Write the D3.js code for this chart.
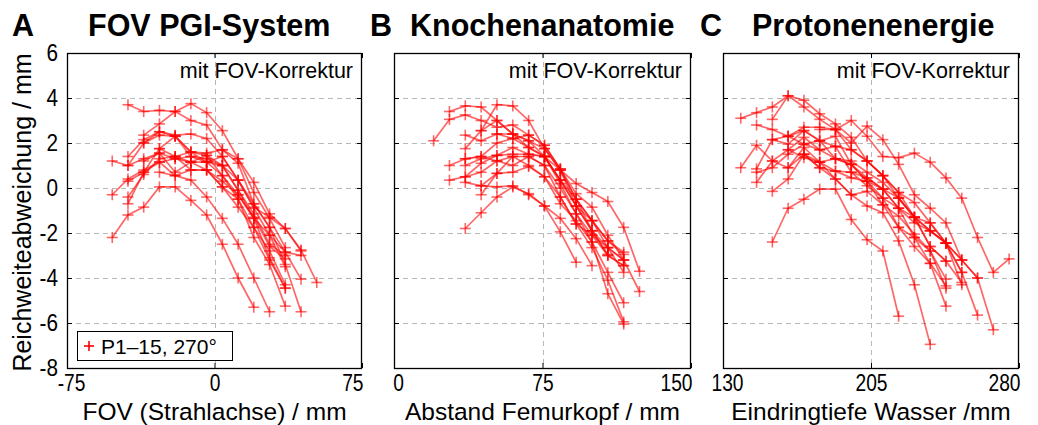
<!DOCTYPE html>
<html><head><meta charset="utf-8">
<script src="https://cdn.jsdelivr.net/npm/d3@7"></script>
<style>body{margin:0;background:#fff}svg{display:block}text{font-family:"Liberation Sans",Arial,Helvetica,sans-serif}</style>
</head><body><svg id="c" width="1038" height="425"></svg>
<script>
// ---- text / axes ----
const panelLetters = ["A", "B", "C"];
const panelTitles = ["FOV PGI-System", "Knochenanatomie", "Protonenenergie"];
const xTitles = ["FOV (Strahlachse) / mm", "Abstand Femurkopf / mm", "Eindringtiefe Wasser /mm"];
const xDomains = [[-75, 75], [0, 150], [130, 280]];
const xTickVals = [[-75, 0, 75], [0, 75, 150], [130, 205, 280]];
const yTickVals = [-8, -6, -4, -2, 0, 2, 4, 6];
const yTitle = "Reichweiteabweichung / mm";
const annotation = "mit FOV-Korrektur";
const legendLabel = "P1\u201315, 270\u00b0";
const xStep = [8, 8, 8];

// ---- data: each line = first x position, then range deviations (mm) ----
const startsA = [-44, -36, -44, -52, -44, -52, -44, -36, -44, -36, -44, -52, -28, -28, -20];
const linesA = [
  [3.7, 3.4, 3.45, 3.4, 3.0, 2.8, 1.7, 1.1, -0.7, -1.75, -2.85, -4.05],
  [2.35, 2.85, 3.4, 3.75, 3.35, 2.55, 1.3, 0.25, -1.15, -1.8, -2.8],
  [1.4, 2.15, 2.5, 2.35, 2.4, 2.2, 1.4, 0.35, -0.85, -1.3, -1.8, -2.75, -4.2],
  [1.2, 1.0, 2.0, 2.35, 2.3, 1.6, 1.45, 1.0, -0.1, -1.15, -2.5, -3.0],
  [1.0, 1.3, 1.55, 1.3, 1.4, 1.3, 1.0, -0.1, -1.35, -3.1, -4.45],
  [-0.3, 0.4, 0.8, 1.15, 1.3, 1.15, 1.45, 0.55, -0.5, -2.2, -3.4, -5.25],
  [0.3, 0.7, 1.75, 1.4, 1.6, 1.55, 1.7, 1.3, -0.2, -1.35, -2.65],
  [2.0, 2.5, 2.3, 1.4, 1.15, 1.4, 0.35, -0.9, -2.1, -3.5],
  [-0.4, 0.6, 1.3, 1.4, 0.8, 0.8, 0.05, -0.5, -1.75, -2.8, -4.3],
  [1.2, 1.55, 0.7, 1.15, 0.8, 0.3, -0.3, -1.3, -2.6, -3.15],
  [-0.7, 0.7, 1.15, 0.55, 0.35, -0.4, -1.35, -2.5, -4.0, -5.5],
  [-2.2, -1.2, -0.85, 0.05, 0.05, -0.55, -1.2, -2.5, -4.0, -5.3],
  [1.75, 2.3, 1.6, 1.15, 0.55, -0.3, -1.35, -2.1, -2.85, -3.0],
  [0.7, 0.55, 0.8, 0.8, 0.05, -0.85, -1.75, -3.2, -4.45],
  [1.4, 1.15, 1.15, 1.0, 0.35, -0.7, -1.75, -3.4, -5.5]
];
const startsB = [28, 20, 36, 36, 28, 28, 36, 36, 36, 36, 44, 36, 44, 52, 44];
const linesB = [
  [3.4, 3.65, 3.6, 3.0, 2.4, 1.8, 1.4, 0.35, -0.8, -1.45, -2.35, -2.95],
  [2.1, 3.05, 3.25, 3.0, 2.7, 2.8, 2.35, 1.9, 0.85, -0.25, -0.85, -2.1, -3.2, -4.6],
  [1.75, 2.55, 3.7, 3.65, 3.0, 1.75, 0.8, 0.2, -0.2, -0.6, -1.75, -3.7],
  [2.35, 2.1, 2.4, 2.4, 2.1, 1.75, 0.8, -0.5, -1.45, -2.35, -2.85],
  [1.0, 1.3, 1.4, 2.0, 2.2, 1.8, 1.4, 0.35, -0.8, -1.9, -2.65, -3.2],
  [0.35, 0.5, 1.1, 1.45, 1.5, 1.5, 1.4, 0.2, -1.15, -2.1, -3.0, -3.45],
  [1.3, 1.4, 1.2, 1.4, 1.4, 1.0, 0.0, -1.15, -2.4, -3.75, -5.1],
  [1.0, 1.3, 1.45, 1.8, 1.5, 1.4, 0.8, -0.8, -1.9, -3.0, -3.45],
  [0.5, 0.7, 1.2, 1.0, 1.4, 1.0, -0.4, -1.6, -2.65, -4.1, -5.95],
  [0.25, 0.1, 0.65, 0.7, 0.95, 0.5, -0.7, -1.45, -2.4, -4.7, -6.05],
  [0.1, 0.05, 0.1, -0.3, -0.8, -1.95, -3.3],
  [-1.8, -1.1, -0.4, 0.05, -0.25, -0.8, -1.35, -2.25, -3.45],
  [-0.3, 0.65, 1.4, 1.0, 0.5, -0.4, -1.6, -2.1, -2.65, -3.2],
  [2.4, 2.2, 2.35, 1.9, 0.85, -0.5, -1.45, -2.65, -3.75],
  [2.55, 3.0, 2.4, 2.1, 1.4, 0.35, -0.5, -1.9, -2.95]
];
const startsC = [139, 155, 147, 147, 139, 147, 147, 155, 155, 163, 163, 155, 171, 163, 179];
const linesC = [
  [3.1, 3.35, 3.6, 4.1, 3.9, 3.3, 2.85, 2.25, 1.2, 0.55, -0.45, -1.3, -2.6, -3.25],
  [3.05, 4.1, 3.6, 3.05, 2.6, 3.0, 2.3, 1.4, 1.35, 1.55, 1.15, 0.45, -0.45, -2.2, -3.75, -3.15],
  [2.8, 2.6, 2.3, 2.7, 2.7, 2.6, 2.0, 2.75, 2.15, 1.05, -0.3, -0.9, -1.55, -3.2, -4.0, -6.3],
  [0.85, 2.15, 1.95, 2.55, 2.1, 1.85, 1.7, 1.2, 0.55, -0.2, -1.3, -1.9, -2.45, -3.75, -5.65],
  [0.9, 1.9, 1.2, 1.7, 2.25, 1.7, 1.3, 1.2, 0.7, 0.25, -0.45, -1.3, -2.6, -3.25, -4.2],
  [0.7, 0.9, 1.5, 1.95, 2.1, 2.3, 1.05, 0.45, -0.05, -0.9, -1.55, -1.9, -2.45, -4.3],
  [0.25, 1.2, 0.9, 1.8, 1.15, 1.3, 1.05, 0.3, -0.75, -1.25, -2.05, -2.8, -4.05],
  [-0.15, 0.4, 1.5, 0.9, 0.75, 0.7, 0.1, -0.45, -1.75, -2.6, -3.35, -4.35],
  [2.15, 2.3, 1.95, 1.7, 1.85, 0.7, 0.45, -0.05, -0.9, -2.2, -3.35, -5.25],
  [1.7, 1.35, 1.15, 0.75, 0.45, 0.3, -0.45, -0.9, -1.3, -1.9, -2.45, -3.2],
  [0.9, 1.5, 0.9, 0.4, -0.3, -0.15, -0.75, -1.75, -2.2, -2.8, -4.45],
  [-2.4, -0.9, -0.5, -0.05, -0.05, -1.4, -2.3, -2.8, -5.7],
  [1.5, 1.15, 0.4, -0.3, -0.8, -1.1, -2.35, -4.3, -6.95],
  [2.3, 2.55, 2.1, 1.3, 1.05, 0.3, -0.05, -0.45, -1.3, -1.55, -2.45, -3.75],
  [2.6, 2.6, 1.7, 1.2, 0.55, -0.2, -0.65, -1.55, -2.45, -3.2, -4.0]
];

// ---- layout ----
const svg = d3.select("#c");
const panelX = [[67, 362], [394, 691], [723, 1019]];
const plotTop = 53, plotBottom = 368;
const yScale = d3.scaleLinear().domain([-8, 6]).range([plotBottom, plotTop]);
const red = "#ff0000";
const panelsData = [[startsA, linesA], [startsB, linesB], [startsC, linesC]];
const fmt = v => String(v);   // plain hyphen-minus as in the reference

const plus = (g, x, y, r) => {
  g.append("line").attr("x1", x - r).attr("x2", x + r).attr("y1", y).attr("y2", y);
  g.append("line").attr("x1", x).attr("x2", x).attr("y1", y - r).attr("y2", y + r);
};
const condense = (sel, f) => sel.each(function () {
  const w = this.getComputedTextLength();
  if (w > 0) d3.select(this).attr("textLength", w * f).attr("lengthAdjust", "spacingAndGlyphs");
});

panelsData.forEach(([starts, lines], p) => {
  const [x0, x1] = panelX[p];
  const xScale = d3.scaleLinear().domain(xDomains[p]).range([x0, x1]);
  const g = svg.append("g");

  // grid
  const grid = g.append("g").attr("stroke", "#b8b8b8").attr("stroke-width", 1).attr("stroke-dasharray", "5,4");
  yTickVals.slice(1, -1).forEach(v => grid.append("line").attr("x1", x0).attr("x2", x1)
    .attr("y1", Math.round(yScale(v)) + 0.5).attr("y2", Math.round(yScale(v)) + 0.5));
  xTickVals[p].slice(1, -1).forEach(v => grid.append("line").attr("y1", plotTop).attr("y2", plotBottom)
    .attr("x1", Math.round(xScale(v)) + 0.5).attr("x2", Math.round(xScale(v)) + 0.5));

  // axes with inward ticks
  const yLeft = d3.axisLeft(yScale).tickValues(yTickVals).tickSize(-5).tickPadding(9)
    .tickFormat(p === 0 ? fmt : () => "");
  const yRight = d3.axisRight(yScale).tickValues(yTickVals).tickSize(-5).tickFormat(() => "");
  const xBottom = d3.axisBottom(xScale).tickValues(xTickVals[p]).tickSize(-5).tickPadding(6).tickFormat(fmt);
  const xTop = d3.axisTop(xScale).tickValues(xTickVals[p]).tickSize(-5).tickFormat(() => "");
  const styleAxis = (a, size, f) => {
    a.select(".domain").remove();
    a.selectAll("line").attr("stroke", "#000");
    a.selectAll("text").attr("font-size", size).attr("fill", "#000")
      .attr("font-family", '"Liberation Sans", Arial, sans-serif').call(condense, f);
  };
  g.append("g").attr("transform", `translate(${x0},0)`).call(yLeft).call(styleAxis, 23, 0.9);
  g.append("g").attr("transform", `translate(${x1},0)`).call(yRight).call(styleAxis, 23, 1);
  const xb = g.append("g").attr("transform", `translate(0,${plotBottom})`).call(xBottom).call(styleAxis, 24, 0.8);
  // first label nudged right, last label kept inside the frame (as in the reference)
  const labels = xb.selectAll(".tick text");
  labels.filter((d, i) => i === 0).attr("dx", 4);
  labels.filter((d, i) => i === 2).attr("text-anchor", "end").attr("dx", 1);
  g.append("g").attr("transform", `translate(0,${plotTop})`).call(xTop).call(styleAxis, 23, 1);

  // frame
  g.append("rect").attr("x", x0 + 0.5).attr("y", plotTop + 0.5).attr("width", x1 - x0 - 1)
    .attr("height", plotBottom - plotTop).attr("fill", "none").attr("stroke", "#000").attr("stroke-width", 1.3);

  // series
  const line = d3.line().x(d => xScale(d[0])).y(d => yScale(d[1]));
  const series = g.append("g");
  lines.forEach((vals, i) => {
    const pts = vals.map((v, k) => [starts[i] + k * xStep[p], v]);
    series.append("path").attr("d", line(pts)).attr("fill", "none")
      .attr("stroke", red).attr("stroke-opacity", 0.6).attr("stroke-width", 1.7);
    const mg = series.append("g").attr("stroke", red).attr("stroke-opacity", 0.6).attr("stroke-width", 1.6);
    pts.forEach(d => plus(mg, xScale(d[0]), yScale(d[1]), 5.5));
  });

  // annotation
  g.append("text").attr("x", x1 - 9).attr("y", plotTop + 25).attr("text-anchor", "end")
    .attr("font-size", 21.5).attr("fill", "#000").text(annotation);

  // x title
  g.append("text").attr("x", (x0 + x1) / 2).attr("y", 420).attr("text-anchor", "middle")
    .attr("font-size", 24.5).attr("fill", "#000").text(xTitles[p]);
});

// titles
const letterX = [12, 370, 700], titleX = [88, 410, 752];
panelLetters.forEach((t, i) => {
  svg.append("text").attr("x", letterX[i]).attr("y", 36).attr("font-size", 30.5).attr("font-weight", "bold").text(t);
  svg.append("text").attr("x", titleX[i]).attr("y", 36).attr("font-size", 30.5).attr("font-weight", "bold").text(panelTitles[i]);
});

// y title
svg.append("text").attr("transform", `translate(31,${(plotTop + plotBottom) / 2 + 2}) rotate(-90)`)
  .attr("text-anchor", "middle").attr("font-size", 25).attr("fill", "#000").text(yTitle);

// legend
const lg = svg.append("g");
lg.append("rect").attr("x", 77.5).attr("y", 331.5).attr("width", 155).attr("height", 29)
  .attr("fill", "#fff").attr("stroke", "#000").attr("stroke-width", 1);
const lm = lg.append("g").attr("stroke", red).attr("stroke-width", 1.6);
plus(lm, 89, 346, 5);
lg.append("text").attr("x", 101).attr("y", 354).attr("font-size", 21).attr("fill", "#000").text(legendLabel);
</script></body></html>
